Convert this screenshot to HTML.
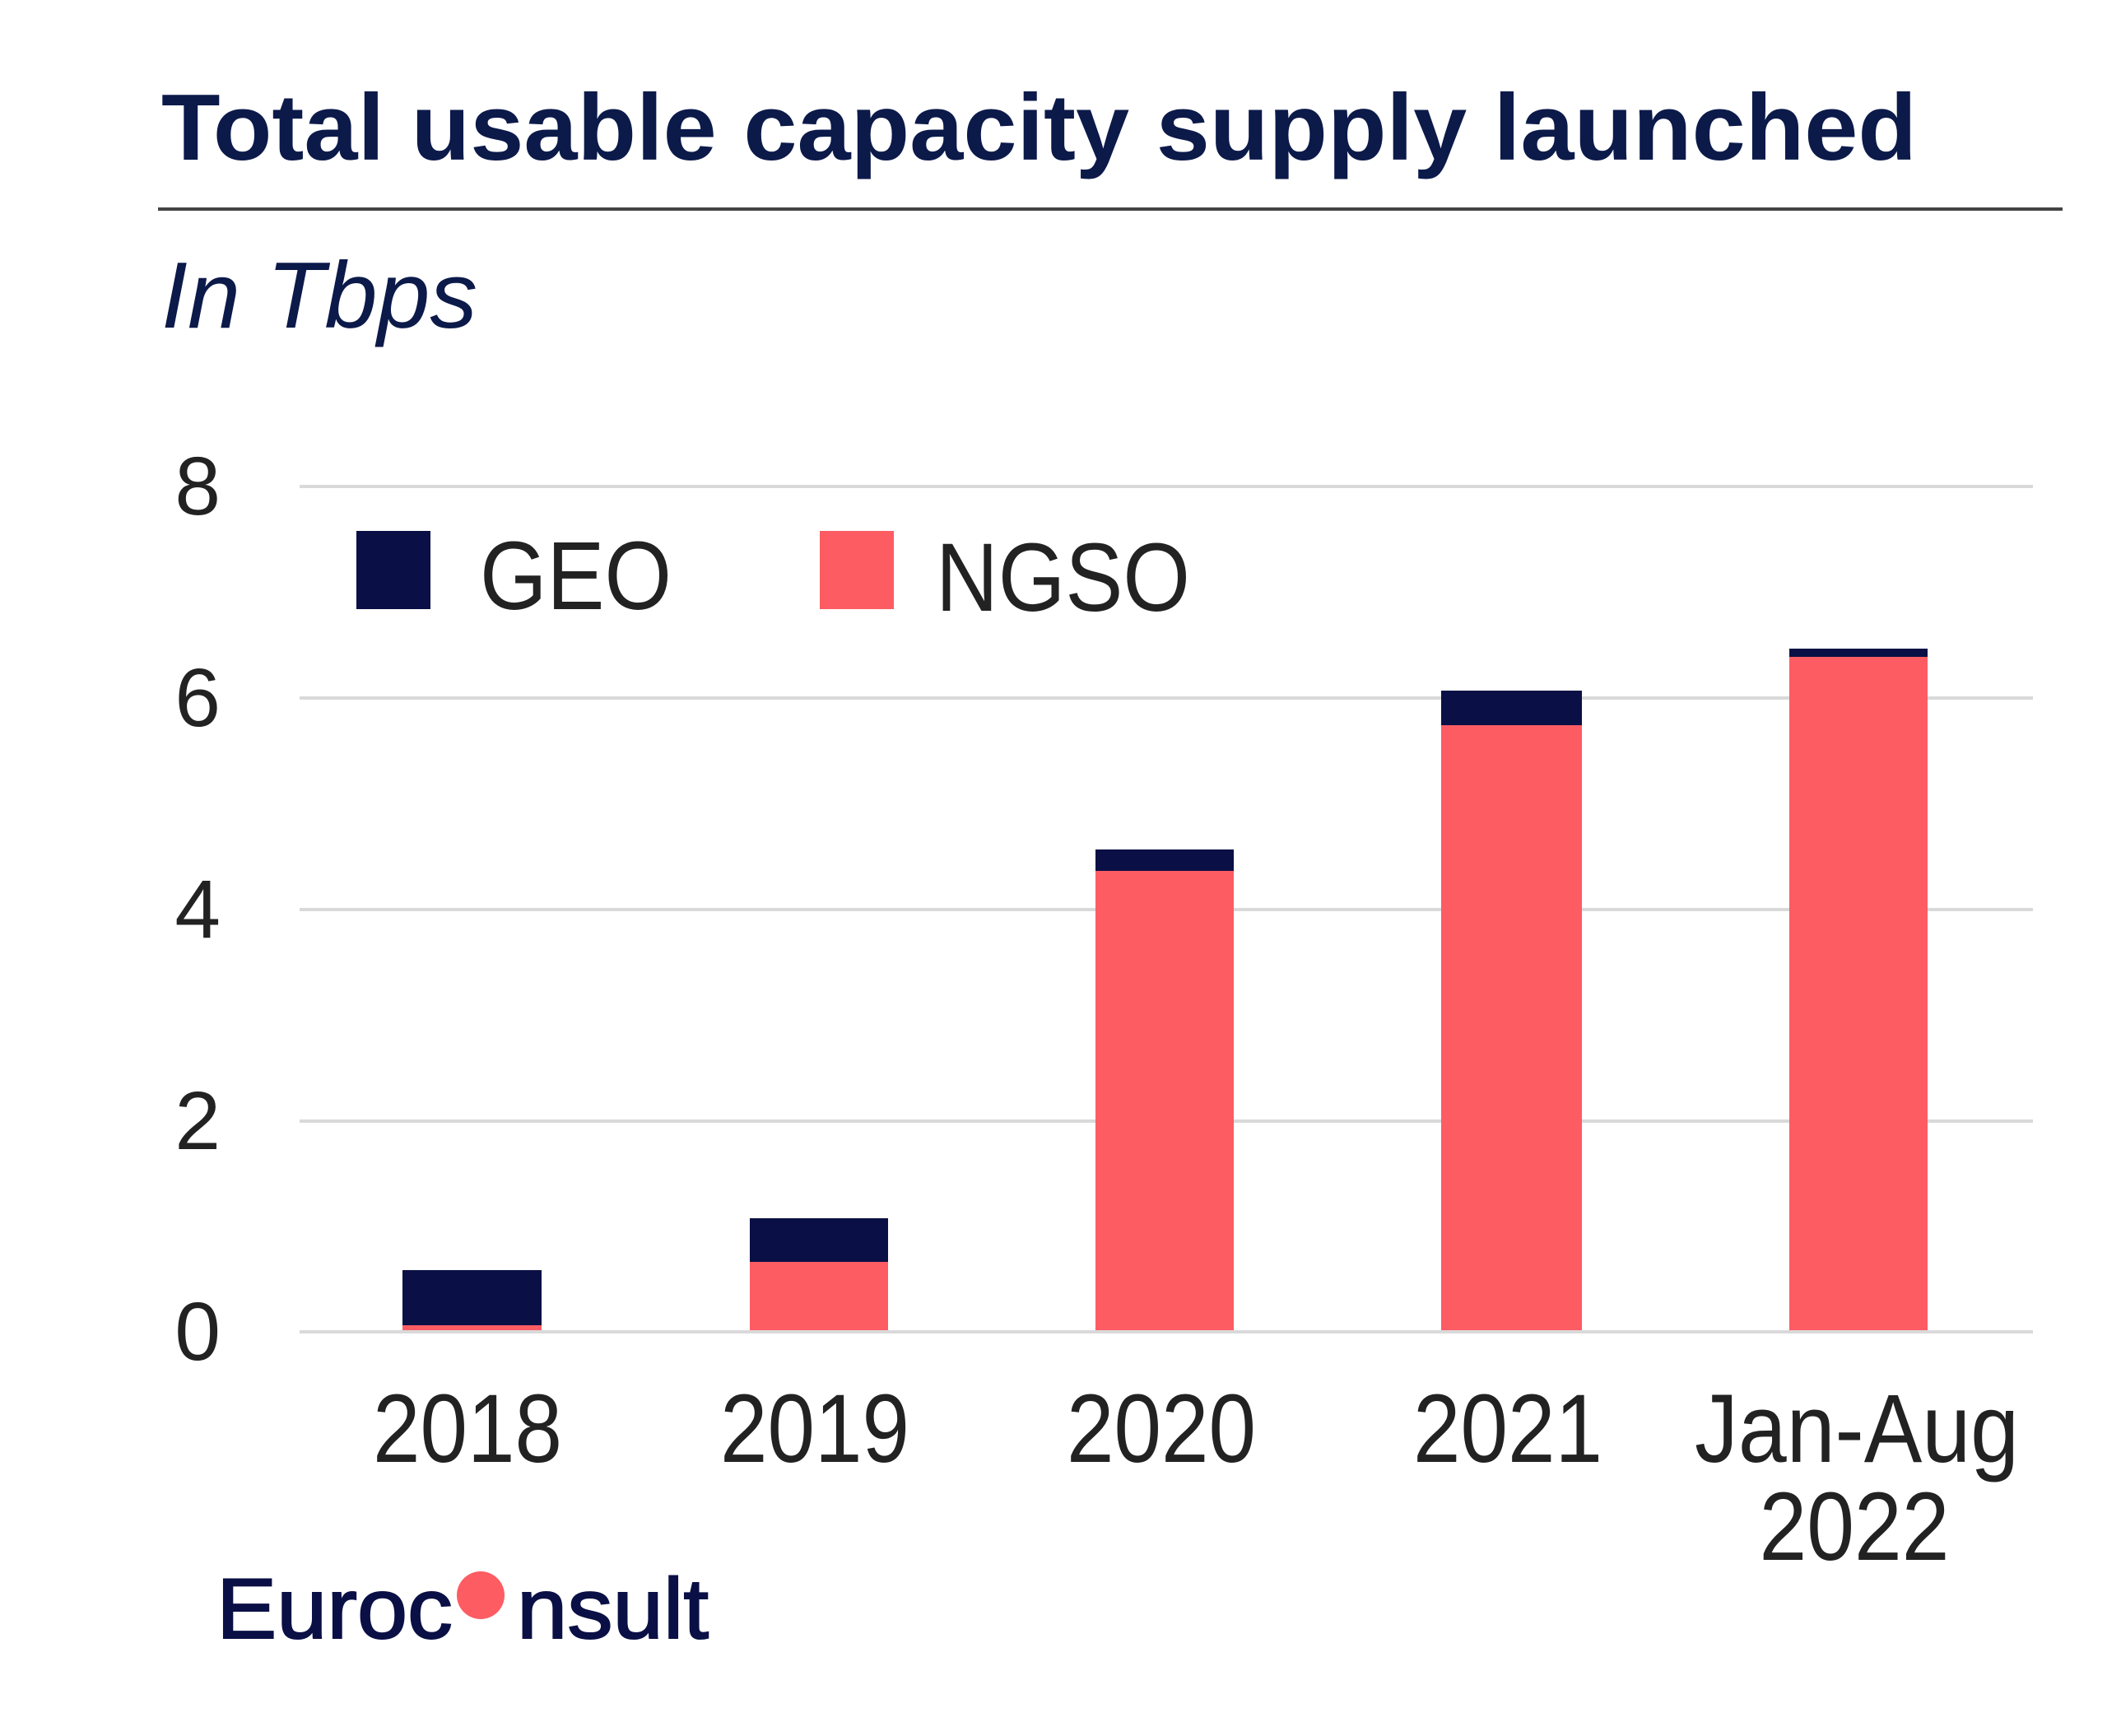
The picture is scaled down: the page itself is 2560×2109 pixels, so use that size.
<!DOCTYPE html>
<html><head><style>body{margin:0;background:#fff}svg{display:block}</style></head><body>
<svg width="2560" height="2109" viewBox="0 0 2560 2109" xmlns="http://www.w3.org/2000/svg" font-family="Liberation Sans, Arial, sans-serif">
<text x="196" y="194" font-size="114" font-weight="bold" fill="#0c1a4a" textLength="2133" lengthAdjust="spacingAndGlyphs">Total usable capacity supply launched</text>
<rect x="192" y="252" width="2314" height="4" fill="#444"/>
<text x="196" y="398" font-size="114" font-style="italic" fill="#0c1a4a" textLength="384" lengthAdjust="spacingAndGlyphs">In Tbps</text>
<g fill="#d9d9d9">
<rect x="364" y="589" width="2106" height="4"/>
<rect x="364" y="846" width="2106" height="4"/>
<rect x="364" y="1103" width="2106" height="4"/>
<rect x="364" y="1360" width="2106" height="4"/>
<rect x="364" y="1616" width="2106" height="4"/>
</g>
<g font-size="100" fill="#222" text-anchor="end">
<text x="268" y="625">8</text>
<text x="268" y="882">6</text>
<text x="268" y="1139">4</text>
<text x="268" y="1396">2</text>
<text x="268" y="1652">0</text>
</g>
<rect x="433" y="645" width="90" height="95" fill="#0a1045"/>
<text x="583" y="740" font-size="118" fill="#222" textLength="233" lengthAdjust="spacingAndGlyphs">GEO</text>
<rect x="996" y="645" width="90" height="95" fill="#fd5c63"/>
<text x="1137" y="742" font-size="118" fill="#222" textLength="309" lengthAdjust="spacingAndGlyphs">NGSO</text>
<g fill="#fd5c63">
<rect x="489" y="1610" width="169" height="6"/>
<rect x="911" y="1533" width="168" height="83"/>
<rect x="1331" y="1058" width="168" height="558"/>
<rect x="1751" y="881" width="171" height="735"/>
<rect x="2174" y="798" width="168" height="818"/>
</g>
<g fill="#0a1045">
<rect x="489" y="1543" width="169" height="67"/>
<rect x="911" y="1480" width="168" height="53"/>
<rect x="1331" y="1032" width="168" height="26"/>
<rect x="1751" y="839" width="171" height="42"/>
<rect x="2174" y="788" width="168" height="10"/>
</g>
<g font-size="118" fill="#222" text-anchor="middle">
<text x="568" y="1776" textLength="230" lengthAdjust="spacingAndGlyphs">2018</text>
<text x="990" y="1776" textLength="230" lengthAdjust="spacingAndGlyphs">2019</text>
<text x="1411" y="1776" textLength="230" lengthAdjust="spacingAndGlyphs">2020</text>
<text x="1832" y="1776" textLength="230" lengthAdjust="spacingAndGlyphs">2021</text>
<text x="2256" y="1776" textLength="394" lengthAdjust="spacingAndGlyphs">Jan-Aug</text>
<text x="2253" y="1895" textLength="231" lengthAdjust="spacingAndGlyphs">2022</text>
</g>
<text x="263" y="1990" font-size="104" fill="#0a1045" stroke="#0a1045" stroke-width="2" textLength="287" lengthAdjust="spacingAndGlyphs">Euroc</text>
<circle cx="584" cy="1938" r="29" fill="#fd5c63"/>
<text x="628" y="1990" font-size="104" fill="#0a1045" stroke="#0a1045" stroke-width="2" textLength="233" lengthAdjust="spacingAndGlyphs">nsult</text>
</svg>
</body></html>
